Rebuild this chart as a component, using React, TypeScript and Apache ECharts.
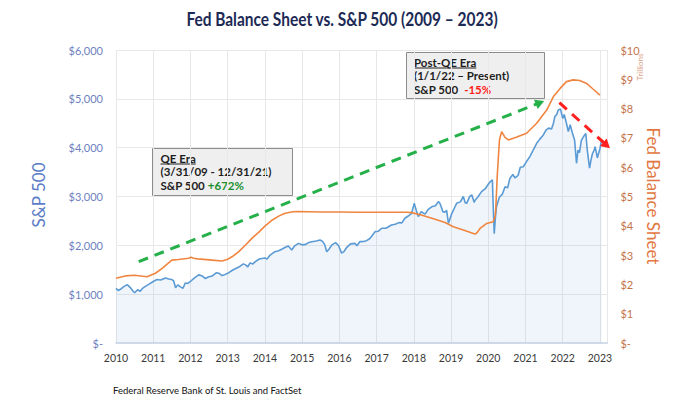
import React, { useEffect, useRef } from 'react';
import * as echarts from 'echarts';

// S&P 500 (decimal year, index level)
const spYears = [
  2010.0, 2010.06, 2010.12, 2010.2, 2010.3, 2010.38, 2010.45, 2010.5, 2010.58, 2010.65, 2010.72, 2010.79, 2010.9,
  2011.0, 2011.1, 2011.2, 2011.33, 2011.42, 2011.5, 2011.55, 2011.6, 2011.66, 2011.73, 2011.8, 2011.86, 2011.93,
  2012.0, 2012.1, 2012.22, 2012.32, 2012.4, 2012.48, 2012.58, 2012.7, 2012.76, 2012.85, 2012.92,
  2013.03, 2013.15, 2013.3, 2013.42, 2013.48, 2013.54, 2013.6, 2013.68, 2013.74, 2013.85,
  2014.0, 2014.06, 2014.14, 2014.27, 2014.37, 2014.45, 2014.55, 2014.63, 2014.72, 2014.8, 2014.9,
  2015.0, 2015.1, 2015.18, 2015.26, 2015.38, 2015.48, 2015.55, 2015.61, 2015.66, 2015.72, 2015.8, 2015.9, 2015.98,
  2016.06, 2016.12, 2016.2, 2016.3, 2016.42, 2016.47, 2016.55, 2016.65, 2016.73, 2016.82, 2016.96,
  2017.05, 2017.14, 2017.25, 2017.4, 2017.5, 2017.6, 2017.68, 2017.76, 2017.85, 2017.94,
  2018.01, 2018.08, 2018.12, 2018.2, 2018.3, 2018.38, 2018.48, 2018.58, 2018.66, 2018.7, 2018.75, 2018.78, 2018.84, 2018.88, 2018.93,
  2019.02, 2019.1, 2019.15, 2019.25, 2019.33, 2019.38, 2019.42, 2019.5, 2019.56, 2019.62, 2019.65, 2019.72, 2019.82, 2019.92,
  2020.0, 2020.05, 2020.11, 2020.13, 2020.16, 2020.19, 2020.22, 2020.3, 2020.38, 2020.45, 2020.52, 2020.58, 2020.66, 2020.72, 2020.8, 2020.86, 2020.94,
  2021.03, 2021.12, 2021.2, 2021.3, 2021.38, 2021.48, 2021.55, 2021.62, 2021.7, 2021.75, 2021.79, 2021.84, 2021.88, 2021.94,
  2022.0, 2022.04, 2022.1, 2022.15, 2022.2, 2022.26, 2022.32, 2022.37, 2022.41, 2022.45, 2022.5, 2022.58, 2022.62, 2022.66, 2022.72, 2022.76, 2022.8, 2022.85, 2022.87, 2022.93, 2022.97,
  2023.0, 2023.04,
];
const spValues = [
  1120, 1075, 1100, 1150, 1195, 1140, 1070, 1030, 1090, 1060, 1125, 1160, 1210,
  1260, 1300, 1290, 1330, 1310, 1300, 1270, 1130, 1190, 1150, 1120, 1230, 1220,
  1260, 1330, 1395, 1370, 1320, 1350, 1370, 1440, 1430, 1380, 1400,
  1440, 1500, 1555, 1620, 1600, 1560, 1640, 1620, 1665, 1720,
  1740, 1720, 1800, 1870, 1890, 1920, 1960, 1985, 1905, 1990, 2040,
  2010, 2020, 2060, 2075, 2090, 2110, 2080, 2010, 1870, 1920, 2010, 2055, 1990,
  1840, 1870, 1960, 2030, 2040, 1990, 2075, 2080, 2095, 2140, 2280,
  2290, 2350, 2350, 2415, 2430, 2465, 2460, 2555, 2600, 2655,
  2860, 2680, 2590, 2690, 2640, 2730, 2790, 2810, 2895, 2860, 2760, 2690, 2680, 2720, 2450,
  2650, 2780, 2860, 2890, 3000, 2870, 2860, 3000, 3030, 2880, 2930, 2990, 3100, 3160,
  3250, 3300, 3340, 2860, 2240, 2550, 2790, 2990, 3050, 3200, 3180, 3370, 3450, 3380, 3430, 3600, 3610,
  3720, 3820, 3940, 4090, 4170, 4260, 4360, 4400, 4380, 4500, 4640, 4680, 4770, 4790,
  4600, 4680, 4500, 4330, 4470, 4300, 4150, 3680, 3950, 3900, 4150, 4250, 4290, 3950, 3580, 3750, 3880, 3960, 4020, 3790, 3900,
  3980, 4150,
];

// Fed balance sheet (decimal year, $ trillions)
const fedYears = [
  2010.0, 2010.25, 2010.5, 2010.83, 2011.06, 2011.24, 2011.5, 2011.68, 2011.95, 2012.02, 2012.08, 2012.2, 2012.58, 2012.85,
  2013.0, 2013.15, 2013.3, 2013.5, 2013.65, 2013.85, 2014.0, 2014.2, 2014.37, 2014.54, 2014.75, 2014.9,
  2015.5, 2016.0, 2016.5, 2017.0, 2017.5, 2017.8, 2017.94, 2018.2, 2018.57, 2018.84, 2019.06, 2019.33, 2019.6, 2019.66,
  2019.72, 2019.78, 2019.96, 2020.13, 2020.18, 2020.2, 2020.24, 2020.3, 2020.36, 2020.45, 2020.54, 2020.75,
  2021.03, 2021.3, 2021.57, 2021.75, 2021.93, 2022.1, 2022.28, 2022.46, 2022.64, 2022.82, 2023.0,
];
const fedValues = [
  2.21, 2.29, 2.31, 2.26, 2.38, 2.55, 2.83, 2.85, 2.89, 2.93, 2.89, 2.87, 2.83, 2.8,
  2.86, 2.97, 3.12, 3.37, 3.57, 3.8, 3.99, 4.2, 4.33, 4.43, 4.48, 4.49,
  4.47, 4.47, 4.46, 4.46, 4.46, 4.46, 4.45, 4.37, 4.22, 4.11, 3.97, 3.86, 3.74, 3.72,
  3.8, 3.91, 4.08, 4.14, 4.3, 4.54, 5.68, 6.93, 7.21, 7.02, 6.93, 7.02,
  7.16, 7.5, 7.95, 8.41, 8.69, 8.92, 8.98, 8.96, 8.86, 8.66, 8.46,
];

const leftTickLabels = ['$-', '$1,000', '$2,000', '$3,000', '$4,000', '$5,000', '$6,000'];
const rightTickLabels = ['$-', '$1', '$2', '$3', '$4', '$5', '$6', '$7', '$8', '$9', '$10'];

// Trend arrows (year, S&P level)
const qeTrend = [[2010.61, 1665], [2021.39, 4921]];
const postQeTrend = [[2021.91, 4921], [2023.18, 4050]];

const FONT = 'Lato, "Noto Sans", sans-serif';
const BOX_FONT = `bold 11.5px ${FONT}`;

function measure(text: string, font: string): number {
  const ctx = document.createElement('canvas').getContext('2d');
  if (!ctx) return text.length * 6;
  ctx.font = font;
  return ctx.measureText(text).width;
}

export default function App() {
  const ref = useRef<HTMLDivElement>(null);
  useEffect(() => {
    if (!ref.current) return;
    const chart = echarts.init(ref.current, undefined, { renderer: 'svg' });
    const spData = spYears.map((y, i) => [y, spValues[i]]);
    const fedData = fedYears.map((y, i) => [y, fedValues[i]]);
    const box = (x: number, y: number, head: string, sub: string, lab: string, pct: string, pctColor: string) => [
      { type: 'text', x, y, style: { text: head, font: BOX_FONT, fill: '#1e1e1e', verticalAlign: 'middle' } },
      { type: 'line', shape: { x1: x, y1: y + 5.5, x2: x + measure(head, BOX_FONT), y2: y + 5.5 }, style: { stroke: '#1e1e1e', lineWidth: 1 } },
      { type: 'text', x, y: y + 13.4, style: { text: sub, font: BOX_FONT, fill: '#1e1e1e', verticalAlign: 'middle' } },
      {
        type: 'text', x, y: y + 26.8,
        style: {
          text: `{b|${lab}}{p|${pct}}`, verticalAlign: 'middle',
          rich: { b: { font: BOX_FONT, fill: '#1e1e1e' }, p: { font: BOX_FONT, fill: pctColor } },
        },
      },
    ];
    chart.setOption({
      animation: false,
      grid: { left: 116, right: 75.6, top: 50, bottom: 54 },
      xAxis: {
        type: 'value', min: 2010, max: 2023.2, interval: 1,
        axisLine: { show: true, lineStyle: { color: '#c9d5e6', width: 1.5 } },
        axisTick: { show: false },
        axisLabel: {
          color: '#3a3a3a', fontSize: 10.5, fontFamily: FONT, margin: 9,
          formatter: (v: number) => (Math.abs(v - Math.round(v)) < 1e-6 ? String(Math.round(v)) : ''),
        },
        splitLine: { show: true, lineStyle: { color: '#e8e8e8' } },
      },
      yAxis: [
        {
          type: 'value', min: 0, max: 6000, interval: 1000, position: 'left',
          axisLine: { show: false }, axisTick: { show: false },
          axisLabel: { color: '#6e7fc1', fontSize: 11, fontFamily: FONT, margin: 13, formatter: (v: number) => leftTickLabels[Math.round(v / 1000)] },
          splitLine: { show: true, lineStyle: { color: '#e8e8e8' } },
        },
        {
          type: 'value', min: 0, max: 10, interval: 1, position: 'right',
          axisLine: { show: false }, axisTick: { show: false },
          axisLabel: { color: '#c4744c', fontSize: 11, fontFamily: FONT, margin: 13, formatter: (v: number) => rightTickLabels[Math.round(v)] },
          splitLine: { show: false },
        },
      ],
      series: [
        {
          name: 'S&P 500', type: 'line', yAxisIndex: 0, data: spData, symbol: 'none',
          lineStyle: { color: '#5b9bd5', width: 1.6 },
          areaStyle: { color: 'rgba(91,155,213,0.14)' },
          markLine: {
            silent: true, symbol: ['none', 'triangle'], symbolSize: [10, 9], label: { show: false },
            data: [
              [{ coord: qeTrend[0], lineStyle: { color: '#25b04a', width: 3, type: [10, 7] }, itemStyle: { color: '#25b04a' } }, { coord: qeTrend[1] }],
              [{ coord: postQeTrend[0], lineStyle: { color: '#ff1f1f', width: 3, type: [10, 7] }, itemStyle: { color: '#ff1f1f' } }, { coord: postQeTrend[1] }],
            ],
          },
        },
        {
          name: 'Fed Balance Sheet', type: 'line', yAxisIndex: 1, data: fedData, symbol: 'none',
          lineStyle: { color: '#f08540', width: 1.6 },
        },
      ],
      graphic: [
        { type: 'text', x: 342, y: 19, scaleX: 0.86, style: { text: 'Fed Balance Sheet vs. S&P 500 (2009 \u2013 2023)', font: `bold 18px ${FONT}`, fill: '#1c2a55', align: 'center', verticalAlign: 'middle' } },
        { type: 'text', x: 38, y: 195, rotation: Math.PI / 2, style: { text: 'S&P 500', font: `17px ${FONT}`, fill: '#5b7cc6', align: 'center', verticalAlign: 'middle' } },
        { type: 'text', x: 653, y: 196, rotation: -Math.PI / 2, style: { text: 'Fed Balance Sheet', font: `17px ${FONT}`, fill: '#e2773f', align: 'center', verticalAlign: 'middle' } },
        { type: 'text', x: 640, y: 67, rotation: Math.PI / 2, style: { text: 'Trillions', font: `8px ${FONT}`, fill: '#d9a285', align: 'center', verticalAlign: 'middle' } },
        { type: 'text', x: 113, y: 390, style: { text: 'Federal Reserve Bank of St. Louis and FactSet', font: `9.5px ${FONT}`, fill: '#111', verticalAlign: 'middle' } },
        { type: 'rect', shape: { x: 152.5, y: 148.5, width: 140, height: 47 }, style: { fill: '#efefef', stroke: '#8c8c8c', lineWidth: 1 } },
        ...box(160.5, 158.5, 'QE Era', '(3/31/09 - 12/31/21)', 'S&P 500 ', '+672%', '#1a8f2e'),
        { type: 'rect', shape: { x: 406.5, y: 52.5, width: 138, height: 46 }, style: { fill: '#efefef', stroke: '#8c8c8c', lineWidth: 1 } },
        ...box(414, 62.5, 'Post-QE Era', '(1/1/22 \u2013 Present)', 'S&P 500  ', '-15%', '#ff1a1a'),
      ],
    });
    return () => chart.dispose();
  }, []);
  return <div ref={ref} style={{ position: 'fixed', left: 0, top: 0, width: 683, height: 397, background: '#fff' }} />;
}
